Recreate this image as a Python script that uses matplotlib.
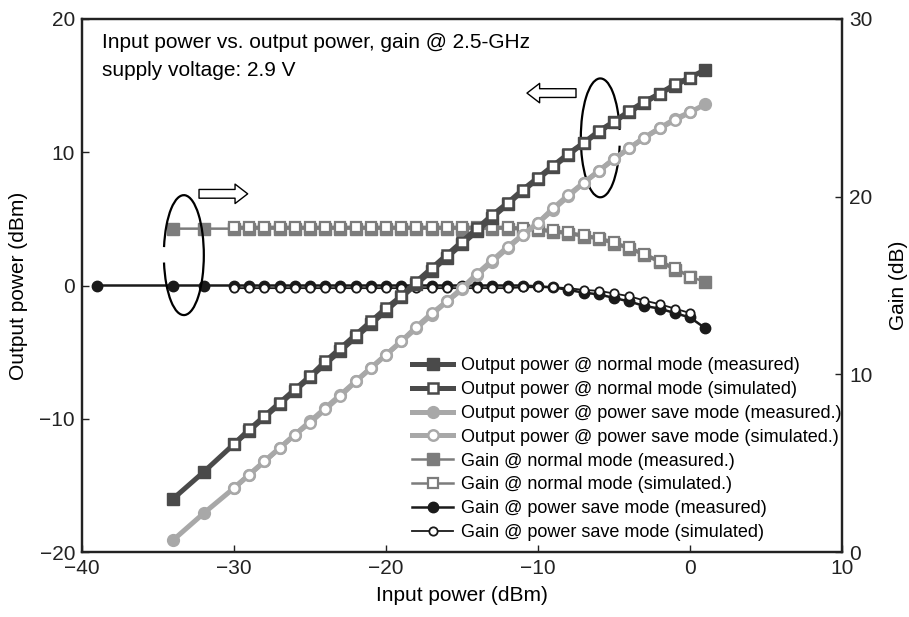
import matplotlib.pyplot as plt
from matplotlib.patches import Arc
import numpy as np

plt.rcParams['font.family'] = ['Liberation Sans', 'DejaVu Sans']

# input power sweeps (dBm)
pin_sim = list(range(-30, 1))
pin_meas = [-34, -32] + list(range(-30, 2))
pin_gps_meas = [-39, -34, -32] + list(range(-30, 2))

# output power, normal mode (dBm)
pout_norm_sim = [-11.9, -10.8, -9.8, -8.8, -7.8, -6.8, -5.7, -4.7, -3.7, -2.7,
                 -1.7, -0.8, 0.3, 1.3, 2.3, 3.3, 4.3, 5.3, 6.2, 7.2,
                 8.1, 9.0, 9.9, 10.7, 11.6, 12.3, 13.1, 13.8, 14.4, 15.1, 15.6]
pout_norm_meas = [-16.0, -14.0,
                  -11.9, -10.9, -9.9, -8.9, -7.9, -6.9, -5.9, -4.9, -3.9, -2.9,
                  -1.9, -0.9, 0.1, 1.1, 2.1, 3.1, 4.1, 5.1, 6.1, 7.1,
                  8.0, 8.9, 9.8, 10.7, 11.5, 12.3, 13.0, 13.7, 14.4, 15.0, 15.6, 16.2]

# output power, power save mode (dBm)
pout_ps_sim = [-15.2, -14.2, -13.2, -12.2, -11.2, -10.3, -9.3, -8.3, -7.2, -6.2,
               -5.2, -4.2, -3.1, -2.1, -1.2, -0.2, 0.9, 1.9, 2.9, 3.8,
               4.7, 5.8, 6.8, 7.7, 8.6, 9.5, 10.3, 11.1, 11.8, 12.4, 13.0]
pout_ps_meas = [-19.1, -17.1,
                -15.2, -14.2, -13.2, -12.2, -11.2, -10.2, -9.2, -8.2, -7.2, -6.2,
                -5.2, -4.2, -3.2, -2.2, -1.2, -0.3, 0.8, 1.8, 2.8, 3.8,
                4.7, 5.7, 6.7, 7.7, 8.6, 9.5, 10.3, 11.1, 11.8, 12.5, 13.0, 13.6]

# gain, normal mode (dB)
gain_norm_sim = [18.3] * 18 + [18.3, 18.25, 18.2, 18.1, 18.0, 17.85, 17.7,
                               17.45, 17.15, 16.8, 16.4, 16.0, 15.5]
gain_norm_meas = [18.2, 18.2] + [18.2] * 18 + [18.2, 18.15, 18.1, 18.0, 17.9,
                                                17.75, 17.6, 17.35, 17.05, 16.7,
                                                16.3, 15.9, 15.5, 15.2]

# gain, power save mode (dB)
gain_ps_sim = [14.85] * 18 + [14.85, 14.9, 14.9, 14.9, 14.85, 14.75, 14.7,
                              14.55, 14.4, 14.15, 13.95, 13.7, 13.45]
gain_ps_meas = [15.0, 15.0, 15.0] + [15.0] * 20 + [14.95, 14.9, 14.75, 14.6,
                                                    14.5, 14.3, 14.1, 13.85,
                                                    13.7, 13.45, 13.2, 12.6]

dark = '#4a4a4a'
light = '#a8a8a8'
mid = '#7c7c7c'
blk = '#1a1a1a'

fig = plt.figure(figsize=(9.09, 6.17), dpi=100)
ax = fig.add_axes([82 / 909, 1 - 552 / 617, 760 / 909, 533 / 617])
ax2 = ax.twinx()
ax.set_zorder(ax2.get_zorder() + 1)
ax.patch.set_visible(False)

h = []
h += ax.plot(pin_meas, pout_norm_meas, '-s', color=dark, lw=3.6, ms=8.5,
             mfc=dark, mec=dark, label='Output power @ normal mode (measured)')
h += ax.plot(pin_sim, pout_norm_sim, '-s', color=dark, lw=3.6, ms=7.5,
             mfc='white', mec=dark, mew=1.8,
             label='Output power @ normal mode (simulated)')
h += ax.plot(pin_meas, pout_ps_meas, '-o', color=light, lw=3.6, ms=8.5,
             mfc=light, mec=light,
             label='Output power @ power save mode (measured.)')
h += ax.plot(pin_sim, pout_ps_sim, '-o', color=light, lw=3.6, ms=7.5,
             mfc='white', mec=light, mew=1.8,
             label='Output power @ power save mode (simulated.)')

h += ax2.plot(pin_meas, gain_norm_meas, '-s', color=mid, lw=1.8, ms=8,
              mfc=mid, mec=mid, label='Gain @ normal mode (measured.)')
h += ax2.plot(pin_sim, gain_norm_sim, '-s', color=mid, lw=1.8, ms=7.5,
              mfc='white', mec=mid, mew=1.6,
              label='Gain @ normal mode (simulated.)')
h += ax2.plot(pin_gps_meas, gain_ps_meas, '-o', color=blk, lw=1.8, ms=7.5,
              mfc=blk, mec=blk, label='Gain @ power save mode (measured)')
h += ax2.plot(pin_sim, gain_ps_sim, '-o', color=blk, lw=1.3, ms=6,
              mfc='white', mec=blk, mew=1.3,
              label='Gain @ power save mode (simulated)')

ax.set_xlim(-40, 10)
ax.set_ylim(-20, 20)
ax2.set_ylim(0, 30)
ax.set_xticks([-40, -30, -20, -10, 0, 10])
ax.set_yticks([-20, -10, 0, 10, 20])
ax2.set_yticks([0, 10, 20, 30])

for a in (ax, ax2):
    for s in a.spines.values():
        s.set_linewidth(1.6)
        s.set_color('#222222')
    a.tick_params(direction='in', length=5, width=1, labelsize=15, pad=5,
                  colors='#222222')

ax.set_xlabel('Input power (dBm)', fontsize=15, labelpad=6)
ax.set_ylabel('Output power (dBm)', fontsize=15, labelpad=8)
ax2.set_ylabel('Gain (dB)', fontsize=15, labelpad=12)

ax.text(0.026, 0.955, 'Input power vs. output power, gain @ 2.5-GHz',
        transform=ax.transAxes, fontsize=15, va='center', ha='left')
ax.text(0.026, 0.904, 'supply voltage: 2.9 V',
        transform=ax.transAxes, fontsize=15, va='center', ha='left')

# ellipses marking the curve groups
ax.add_patch(Arc((0.134, 0.557), 0.0526, 0.225, theta1=-152, theta2=150,
                 transform=ax.transAxes, color='black', lw=1.6))
ax.add_patch(Arc((0.682, 0.777), 0.0513, 0.223, theta1=30, theta2=330,
                 transform=ax.transAxes, color='black', lw=1.6))

arrow = dict(arrowstyle='simple,head_width=1.0,head_length=0.65,tail_width=0.45',
             fc='white', ec='black', lw=1, shrinkA=0, shrinkB=0,
             mutation_scale=14)
ax.annotate('', xy=(0.218, 0.672), xytext=(0.154, 0.672),
            xycoords='axes fraction', arrowprops=arrow)
ax.annotate('', xy=(0.5855, 0.861), xytext=(0.65, 0.861),
            xycoords='axes fraction', arrowprops=arrow)

ax.legend(handles=h, loc='upper left', bbox_to_anchor=(0.434, 0.3655),
          frameon=False, fontsize=13, numpoints=1, borderpad=0,
          borderaxespad=0, handlelength=2.3, handletextpad=0.4,
          labelspacing=0.38)

fig.savefig('out.png', dpi=100)
